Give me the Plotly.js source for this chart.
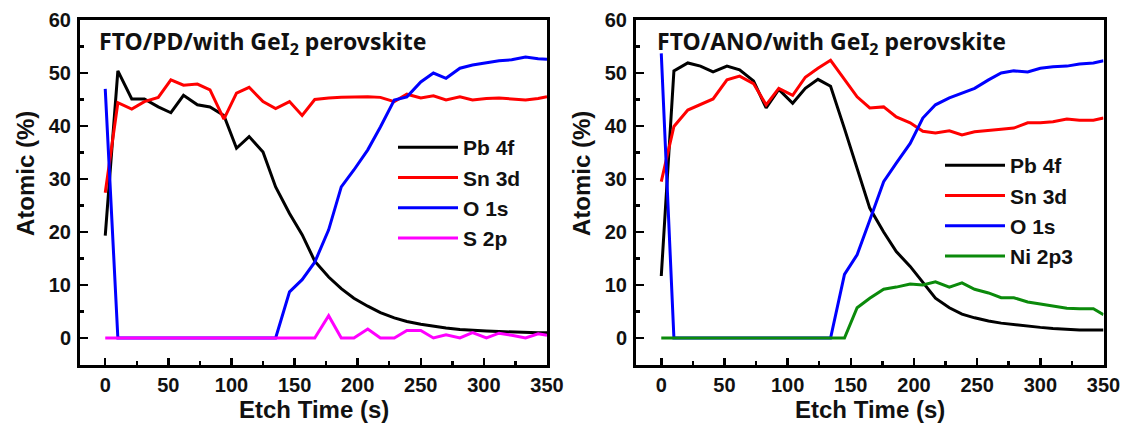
<!DOCTYPE html>
<html>
<head>
<meta charset="utf-8">
<script src="https://cdn.plot.ly/plotly-3.0.1.min.js"></script>
<style>html,body{margin:0;padding:0;background:#fff;}#chart{width:1129px;height:425px;}</style>
</head>
<body>
<div id="chart"></div>
<script>
// ---- Left panel: FTO/PD/with GeI2 perovskite ----
const timeLeft = [0,10,21,31,42,52,62,73,83,94,104,114,125,135,146,156,166,177,187,197,208,218,229,239,250,260,270,281,291,302,312,322,333,343,350];
const pbLeft = [19.3,50.4,45.1,45.1,43.6,42.5,45.8,44.0,43.6,42.0,35.8,38.0,35.1,28.5,23.5,19.5,14.5,11.5,9.3,7.5,6.0,4.8,3.8,3.1,2.6,2.2,1.9,1.6,1.4,1.3,1.2,1.1,1.0,1.0,1.0];
const snLeft = [27.4,44.4,43.2,44.6,45.4,48.7,47.7,47.9,46.8,41.3,46.2,47.3,44.6,43.3,44.6,42.0,45.0,45.3,45.4,45.5,45.5,45.4,44.6,46.0,45.3,45.7,44.9,45.5,44.9,45.2,45.3,45.1,44.9,45.2,45.5];
const oLeft = [47.0,0,0,0,0,0,0,0,0,0,0,0,0,0,8.7,11.0,14.3,20.4,28.5,31.7,35.5,39.8,44.9,45.5,48.3,50.0,49.0,50.9,51.5,51.9,52.3,52.5,53.0,52.7,52.6];
const sLeft = [0,0,0,0,0,0,0,0,0,0,0,0,0,0,0,0,0,4.2,0,0,1.7,0,0,1.4,1.4,0,0.6,0,1.0,0,0.9,0.5,0,0.8,0.5];

// ---- Right panel: FTO/ANO/with GeI2 perovskite ----
const timeRight = [0,10,21,31,41,52,62,73,83,93,104,114,124,134,145,155,165,176,186,197,207,217,228,238,248,259,269,279,290,300,310,321,331,342,350];
const pbRight = [11.7,50.4,51.9,51.3,50.2,51.3,50.6,48.5,43.4,46.9,44.3,47.1,48.8,47.5,39.5,32.0,24.5,20.0,16.3,13.5,10.5,7.5,5.7,4.5,3.8,3.2,2.8,2.5,2.2,2.0,1.8,1.6,1.5,1.5,1.5];
const snRight = [29.5,39.9,43.0,44.0,45.1,48.7,49.4,48.0,44.0,47.1,45.8,49.2,50.9,52.4,48.7,45.5,43.4,43.6,41.7,40.6,39.0,38.7,39.1,38.3,38.9,39.2,39.4,39.6,40.6,40.6,40.8,41.3,41.1,41.1,41.5];
const oRight = [53.7,0,0,0,0,0,0,0,0,0,0,0,0,0,12.0,15.7,22.2,29.5,33.0,36.7,41.5,44.0,45.3,46.2,47.1,48.7,50.0,50.4,50.2,50.9,51.2,51.3,51.7,51.9,52.3];
const niRight = [0,0,0,0,0,0,0,0,0,0,0,0,0,0,0,5.7,7.5,9.2,9.6,10.2,10.0,10.6,9.6,10.4,9.2,8.5,7.6,7.6,6.8,6.4,6.0,5.6,5.5,5.5,4.4];

const namesLeft = ['Pb 4f','Sn 3d','O 1s','S 2p'];
const namesRight = ['Pb 4f','Sn 3d','O 1s','Ni 2p3'];
const panelTitles = ['FTO/PD/with GeI<sub>2</sub> perovskite','FTO/ANO/with GeI<sub>2</sub> perovskite'];
const xTickVals = [0,50,100,150,200,250,300,350];
const yTickVals = [0,10,20,30,40,50,60];

const colors = {pb:'#000000', sn:'#ff0000', o:'#0000ff', s:'#ff00ff', ni:'#0b8a0b'};
const LW = 3;

function tr(x, y, name, color, xa, ya, leg){
  return {x:x, y:y, name:name, type:'scatter', mode:'lines', xaxis:xa, yaxis:ya, legend:leg,
          line:{color:color, width:LW}};
}

const data = [
  tr(timeLeft, pbLeft, namesLeft[0], colors.pb, 'x', 'y', 'legend'),
  tr(timeLeft, snLeft, namesLeft[1], colors.sn, 'x', 'y', 'legend'),
  tr(timeLeft, oLeft, namesLeft[2], colors.o, 'x', 'y', 'legend'),
  tr(timeLeft, sLeft, namesLeft[3], colors.s, 'x', 'y', 'legend'),
  tr(timeRight, pbRight, namesRight[0], colors.pb, 'x2', 'y2', 'legend2'),
  tr(timeRight, snRight, namesRight[1], colors.sn, 'x2', 'y2', 'legend2'),
  tr(timeRight, oRight, namesRight[2], colors.o, 'x2', 'y2', 'legend2'),
  tr(timeRight, niRight, namesRight[3], colors.ni, 'x2', 'y2', 'legend2')
];

const tickFont = {family:'Liberation Sans, Arial, sans-serif', size:20, color:'#111', weight:700};
const titleFont = {family:'Liberation Sans, Arial, sans-serif', size:24, color:'#111', weight:700};
const legendFont = {family:'Liberation Sans, Arial, sans-serif', size:21, color:'#111', weight:700};
const labelFont = {family:'Noto Sans, sans-serif', size:23, color:'#111', weight:700};

function xAxis(domain, anchor){
  return {domain:domain, anchor:anchor, range:[-20,350], tickmode:'array', tickvals:xTickVals,
    ticks:'inside', ticklen:7, tickwidth:2.5, tickcolor:'#000',
    minor:{tickmode:'linear', tick0:25, dtick:50, ticks:'inside', ticklen:4, tickwidth:2.5, tickcolor:'#000'},
    showgrid:false, zeroline:false, showline:true, linewidth:3, linecolor:'#000', mirror:true,
    tickfont:tickFont, fixedrange:true};
}
function yAxis(anchor){
  return {domain:[0,1], anchor:anchor, range:[-5.1,60], tickmode:'array', tickvals:yTickVals,
    ticks:'inside', ticklen:8, tickwidth:2.5, tickcolor:'#000',
    minor:{tickmode:'linear', tick0:5, dtick:10, ticks:'inside', ticklen:4, tickwidth:2.5, tickcolor:'#000'},
    showgrid:false, zeroline:false, showline:true, linewidth:3, linecolor:'#000', mirror:true,
    tickfont:tickFont, ticklabelstandoff:2, fixedrange:true};
}

const dL = [80/1129, 547/1129];
const dR = [636/1129, 1103.5/1129];

const annotations = [
  {text:panelTitles[0], xref:'x domain', yref:'y domain', x:0.036, y:0.936, xanchor:'left', yanchor:'middle', showarrow:false, font:labelFont},
  {text:panelTitles[1], xref:'x2 domain', yref:'y2 domain', x:0.040, y:0.936, xanchor:'left', yanchor:'middle', showarrow:false, font:labelFont},
  {text:'Atomic (%)', xref:'paper', yref:'paper', x:25/1129, y:(365-174)/345, textangle:-90, xanchor:'center', yanchor:'middle', showarrow:false, font:titleFont},
  {text:'Atomic (%)', xref:'paper', yref:'paper', x:581/1129, y:(365-174)/345, textangle:-90, xanchor:'center', yanchor:'middle', showarrow:false, font:titleFont},
  {text:'Etch Time (s)', xref:'x domain', yref:'paper', x:0.5, y:-(410-365)/345, xanchor:'center', yanchor:'middle', showarrow:false, font:titleFont},
  {text:'Etch Time (s)', xref:'x2 domain', yref:'paper', x:0.5, y:-(410-365)/345, xanchor:'center', yanchor:'middle', showarrow:false, font:titleFont}
];

const legendBase = {bgcolor:'rgba(0,0,0,0)', borderwidth:0, font:legendFont, xanchor:'left', yanchor:'top', itemwidth:60, tracegroupgap:0, xref:'paper', yref:'paper'};

const layout = {
  width:1129, height:425,
  margin:{l:0, r:0, t:20, b:60},
  paper_bgcolor:'#fff', plot_bgcolor:'#fff',
  showlegend:true,
  xaxis:xAxis(dL,'y'), yaxis:yAxis('x'),
  xaxis2:xAxis(dR,'y2'), yaxis2:yAxis('x2'),
  legend:Object.assign({}, legendBase, {x:393/1129, y:(365-127)/345}),
  legend2:Object.assign({}, legendBase, {x:940/1129, y:(365-145)/345}),
  annotations:annotations
};

Plotly.newPlot('chart', data, layout, {displayModeBar:false, staticPlot:true});
</script>
</body>
</html>
